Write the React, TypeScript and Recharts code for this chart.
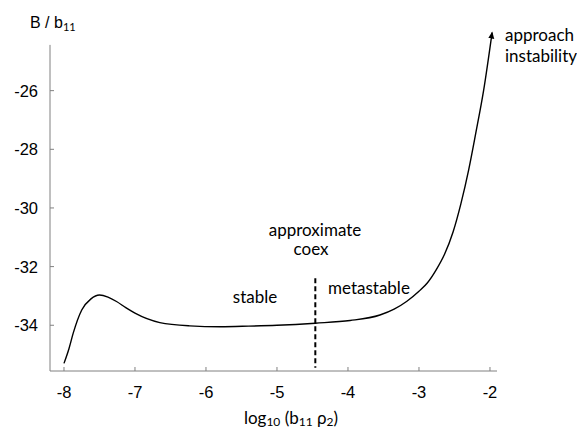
import { LineChart, Line, XAxis, YAxis, ReferenceLine } from 'recharts';

// curve: log10(b11 rho2) vs B / b11
const logRho = [
  -8.0, -7.93, -7.87, -7.75, -7.62, -7.5, -7.38, -7.26, -7.13, -7.0, -6.65, -6.23, -5.8, -5.4, -5.0,
  -4.46, -3.97, -3.55, -3.35, -3.17, -3.0, -2.88, -2.76, -2.64, -2.52, -2.41, -2.3, -2.2, -2.09, -1.97,
];
const bOverB11 = [
  -35.3, -34.8, -34.27, -33.48, -33.1, -32.97, -33.04, -33.19, -33.4, -33.59, -33.91, -34.02, -34.05, -34.03, -34.0,
  -33.93, -33.84, -33.65, -33.45, -33.18, -32.84, -32.55, -32.12, -31.58, -30.82, -29.86, -28.7, -27.45, -26.0, -24.02,
];

const xTicks = [-8, -7, -6, -5, -4, -3, -2];
const yTicks = [-34, -32, -30, -28, -26];

const X_MIN = -8.197;
const X_MAX = -1.901;
const Y_MIN = -35.56;
const Y_MAX = -24.0;
const Y_AXIS_TOP = -24.44;

// dashed "approximate coex" marker
const COEX_X = -4.46;
const COEX_Y_TOP = -32.4;
const COEX_Y_BOTTOM = -35.45;

const data = logRho.map((x, i) => ({ x, b: bOverB11[i] }));

const axisGrey = '#808080';
const sansFont = '"Liberation Sans", Arial, sans-serif';
const noteFont = 'Lato, "Open Sans", sans-serif';

const XTick = (props: any) => (
  <text x={props.x} y={props.y} dy="0.72em" textAnchor="middle" fontSize={16.5} fontFamily={sansFont} fill="#000">
    {props.payload.value}
  </text>
);

const YTick = (props: any) => (
  <text x={props.x} y={props.y} dy="0.36em" textAnchor="end" fontSize={16.5} fontFamily={sansFont} fill="#000">
    {props.payload.value}
  </text>
);

export default function App() {
  return (
    <div style={{ position: 'absolute', left: 0, top: 0, width: 577, height: 434, background: '#fff' }}>
      <svg width={0} height={0} style={{ position: 'absolute' }}>
        <defs>
          <marker
            id="arrowhead"
            markerUnits="userSpaceOnUse"
            markerWidth={8}
            markerHeight={8}
            refX={6}
            refY={3}
            orient="auto"
          >
            <path d="M0,0 L7,3 L0,6 Z" fill="#000" />
          </marker>
        </defs>
      </svg>
      <LineChart width={577} height={434} data={data} margin={{ top: 32, right: 80, bottom: 0, left: 0 }}>
        <XAxis
          dataKey="x"
          type="number"
          domain={[X_MIN, X_MAX]}
          ticks={xTicks}
          height={63}
          stroke={axisGrey}
          tickSize={-4}
          tickMargin={19}
          tick={<XTick />}
          interval={0}
        />
        <YAxis
          type="number"
          domain={[Y_MIN, Y_MAX]}
          ticks={yTicks}
          width={50}
          axisLine={false}
          stroke={axisGrey}
          tickSize={-4}
          tickMargin={16}
          tick={<YTick />}
          interval={0}
        />
        <ReferenceLine
          segment={[{ x: X_MIN, y: Y_MIN }, { x: X_MIN, y: Y_AXIS_TOP }]}
          stroke={axisGrey}
          strokeWidth={1}
        />
        <Line
          dataKey="b"
          type="monotone"
          stroke="#000"
          strokeWidth={1.4}
          dot={false}
          activeDot={false}
          isAnimationActive={false}
          markerEnd="url(#arrowhead)"
        />
        <ReferenceLine
          segment={[{ x: COEX_X, y: COEX_Y_TOP }, { x: COEX_X, y: COEX_Y_BOTTOM }]}
          stroke="#000"
          strokeWidth={2}
          strokeDasharray="5 3"
        />
      </LineChart>
      <svg
        width={577}
        height={434}
        style={{ position: 'absolute', left: 0, top: 0, pointerEvents: 'none' }}
      >
        <text x={30} y={28} fontFamily={sansFont} fontSize={16} fill="#000">
          B / b<tspan fontFamily={noteFont} fontSize={11} dy={3}>11</tspan>
        </text>
        <g fontFamily={noteFont} fontSize={17} fill="#000">
          <text x={315} y={236} textAnchor="middle">approximate</text>
          <text x={311} y={255} textAnchor="middle">coex</text>
          <text x={255} y={303} textAnchor="middle">stable</text>
          <text x={328} y={294}>metastable</text>
          <text x={505} y={41}>approach</text>
          <text x={505} y={62}>instability</text>
          <text x={291} y={424} textAnchor="middle">
            log<tspan fontSize={12} dy={2}>10</tspan>
            <tspan dy={-2}> (b</tspan>
            <tspan fontSize={12} dy={2}>11</tspan>
            <tspan dy={-2}> ρ</tspan>
            <tspan fontSize={12} dy={2}>2</tspan>
            <tspan dy={-2}>)</tspan>
          </text>
        </g>
      </svg>
    </div>
  );
}
